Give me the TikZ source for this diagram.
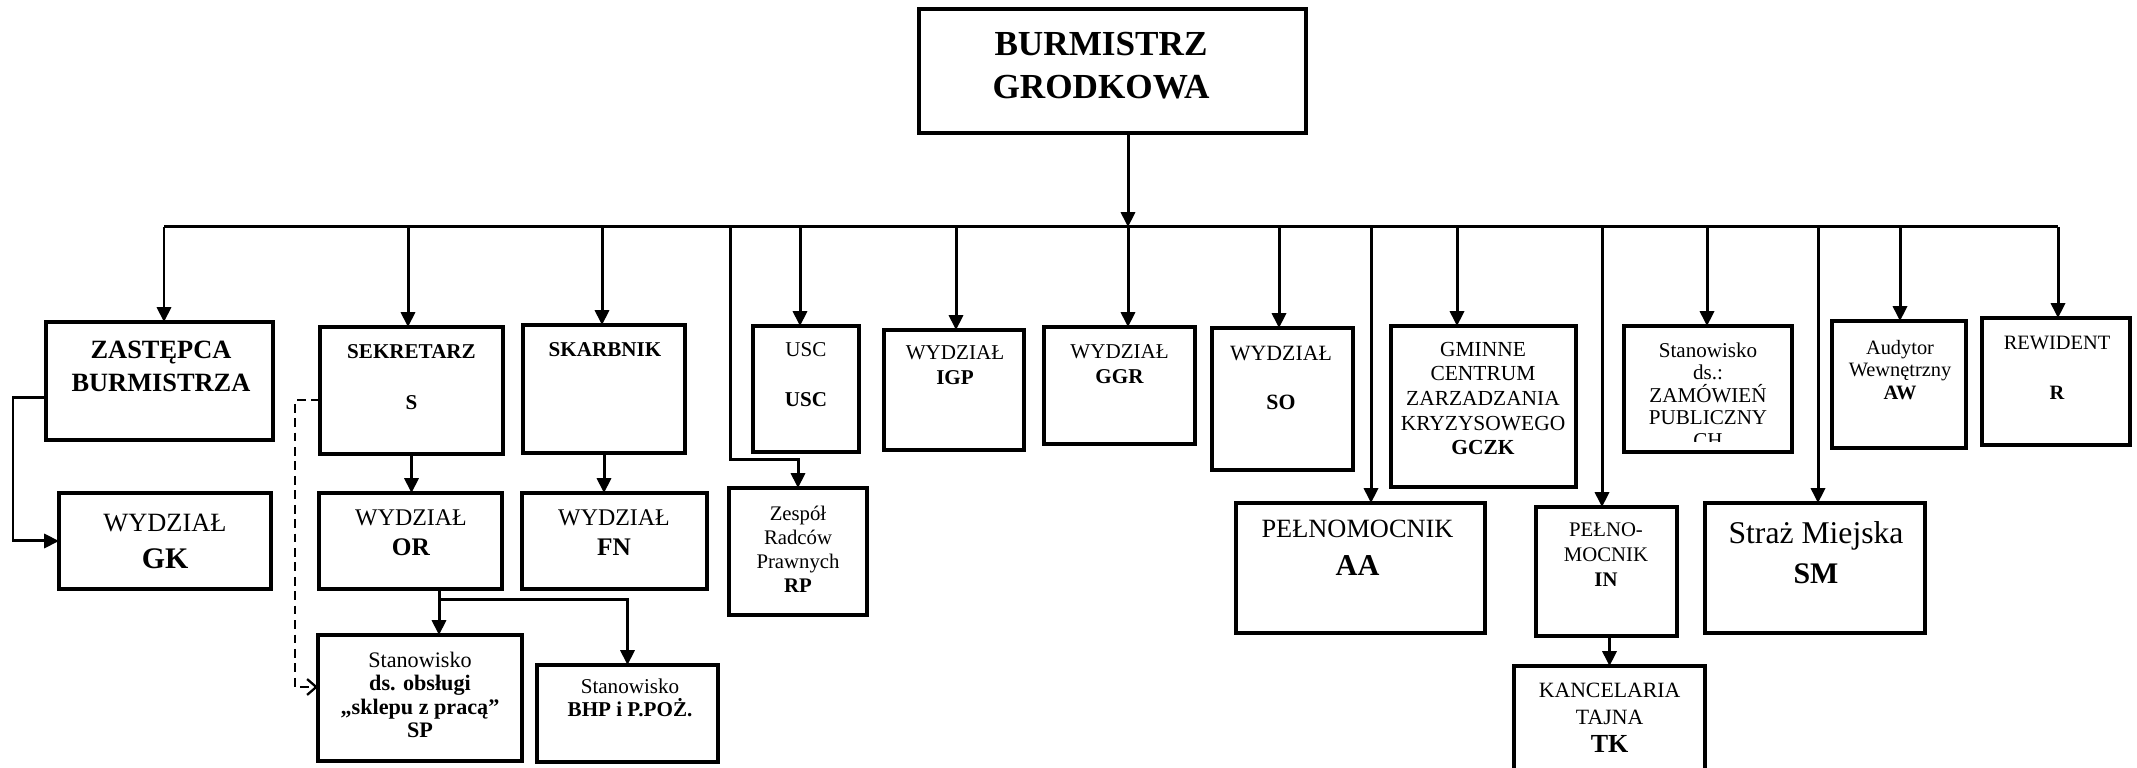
\documentclass[tikz,border=0pt]{standalone}
\usepackage{fontspec}
\setmainfont{Liberation Serif}
\usetikzlibrary{arrows.meta}
\newcommand\mybox[6][]{\node[box,#1,minimum width={(#5-#3)*0.01cm},minimum height={(#6-#4)*0.01cm}] (#2) at ({(#3+#5)/2},{(#4+#6)/2}) {};}
\newcommand\fz[2]{\fontsize{#1pt}{#2pt}\selectfont}
\begin{document}
\begin{tikzpicture}[x=0.01cm,y=-0.01cm,
  box/.style={draw,rectangle,line width=1pt,inner sep=0pt,outer sep=0pt},
  txt/.style={align=center,inner sep=0pt,outer sep=0pt},
  ln/.style={line width=0.85pt},
  arr/.style={line width=0.85pt,-{Triangle[length=4.2pt,width=4pt]}},
  dsh/.style={line width=0.65pt,dash pattern=on 2.5pt off 1.6pt,-{Straight Barb[length=2.6pt,width=4.5pt]}}]
\useasboundingbox (0,0) rectangle (2137,768);
\clip (0,0) rectangle (2137,768);
% boxes
\mybox[line width=1.35pt]{burm}{919}{9}{1306}{133}
\mybox{zast}{46}{322}{273}{440}
\mybox{gk}{59}{493}{271}{589}
\mybox{sek}{320}{327}{503}{454}
\mybox{sk}{523}{325}{685}{453}
\mybox{or}{319}{493}{502}{589}
\mybox{fn}{522}{493}{707}{589}
\mybox{sp}{318}{635}{522}{761}
\mybox{bhp}{537}{665}{718}{762}
\mybox{usc}{753}{326}{859}{452}
\mybox{rp}{729}{488}{867}{615}
\mybox{igp}{884}{330}{1024}{450}
\mybox{ggr}{1044}{327}{1195}{444}
\mybox{so}{1212}{328}{1353}{470}
\mybox{gczk}{1391}{326}{1576}{487}
\mybox{zp}{1624}{326}{1792}{452}
\mybox{aw}{1832}{321}{1966}{448}
\mybox{rw}{1982}{318}{2130}{445}
\mybox{aa}{1236}{503}{1485}{633}
\mybox{in}{1536}{507}{1677}{636}
\mybox{tk}{1514}{666}{1705}{790}
\mybox{sm}{1705}{503}{1925}{633}
% texts
\node[txt,font=\bfseries\fz{10}{12.2}] (burm-t) at (1101,65.5) {BURMISTRZ\\GRODKOWA};
\node[txt,font=\bfseries\fz{7.5}{9.4}] (zast-t) at (161,366.5) {ZASTĘPCA\\BURMISTRZA};
\node[txt,font=\fz{7.5}{10.5}] (gk-t) at (165,541.5) {WYDZIAŁ\\\textbf{\fz{8.5}{10.5}GK}};
\node[txt,font=\bfseries\fz{6}{7.2}] (sek-t) at (411.5,377.5) {SEKRETARZ\\[7.3pt]S};
\node[txt,font=\bfseries\fz{6}{7.2}] (sk-t) at (605,350) {SKARBNIK};
\node[txt,font=\fz{6.8}{8.5}] (or-t) at (411,533) {WYDZIAŁ\\\textbf{\fz{7.2}{8.5}OR}};
\node[txt,font=\fz{6.8}{8.5}] (fn-t) at (614,533) {WYDZIAŁ\\\textbf{\fz{7.2}{8.5}FN}};
\node[txt,font=\fz{6.3}{6.6}] (sp-t) at (420,695) {Stanowisko\\\textbf{ds. obsługi}\\\textbf{„sklepu z pracą”}\\\textbf{SP}};
\node[txt,font=\fz{6}{6.6}] (bhp-t) at (630,698) {Stanowisko\\\textbf{BHP i P.POŻ.}};
\node[txt,font=\fz{6}{14.2}] (usc-t) at (806,375) {USC\\\textbf{USC}};
\node[txt,font=\fz{5.9}{6.8}] (rp-t) at (798,549) {Zespół\\Radców\\Prawnych\\\textbf{RP}};
\node[txt,font=\fz{6}{7.1}] (igp-t) at (955,365.5) {WYDZIAŁ\\\textbf{IGP}};
\node[txt,font=\fz{6}{7.1}] (ggr-t) at (1119.6,364.5) {WYDZIAŁ\\\textbf{GGR}};
\node[txt,font=\fz{6.2}{13.9}] (so-t) at (1281,377.5) {WYDZIAŁ\\\textbf{SO}};
\node[txt,font=\fz{6.1}{7.0}] (gczk-t) at (1483,398.5) {GMINNE\\CENTRUM\\ZARZADZANIA\\KRYZYSOWEGO\\\textbf{GCZK}};
\begin{scope}
\clip (1624,326) rectangle (1792,442);
\node[txt,font=\fz{6}{6.4}] (zp-t) at (1708,395) {Stanowisko\\ds.:\\ZAMÓWIEŃ\\PUBLICZNY\\CH};
\end{scope}
\node[txt,font=\fz{5.8}{6.5}] (aw-t) at (1900,370) {Audytor\\Wewnętrzny\\\textbf{AW}};
\node[txt,font=\fz{5.8}{14.2}] (rw-t) at (2057,368) {REWIDENT\\\textbf{R}};
\node[txt,font=\fz{7.5}{10.8}] (aa-t) at (1357.5,548) {PEŁNOMOCNIK\\\textbf{\fz{8.6}{10.8}AA}};
\node[txt,font=\fz{5.9}{7.1}] (in-t) at (1606,555) {PEŁNO-\\MOCNIK\\\textbf{IN}};
\node[txt,font=\fz{6.2}{7.8}] (tk-t) at (1609.6,717.5) {KANCELARIA\\TAJNA\\\textbf{\fz{7.4}{7.8}TK}};
\node[txt,font=\fz{9}{11.3}] (sm-t) at (1816,553) {Straż Miejska\\\textbf{\fz{8.5}{11.3}SM}};
% bus
\coordinate (bL) at (164,227);
\coordinate (bR) at (2058,227);
\coordinate (bs) at (408,227);
\coordinate (bsk) at (602,227);
\coordinate (brp) at (730,227);
\coordinate (bu) at (800,227);
\coordinate (bi) at (956,227);
\coordinate (bg) at (1128,227);
\coordinate (bso) at (1279,227);
\coordinate (baa) at (1371,227);
\coordinate (bgc) at (1457,227);
\coordinate (bin) at (1602,227);
\coordinate (bzp) at (1707,227);
\coordinate (bsm) at (1818,227);
\coordinate (baw) at (1900,227);
\draw[ln] (bL) -- (bR);
\draw[arr] (bg |- burm.south) -- (bg);
\draw[arr] (bL) -- (bL |- zast.north);
\draw[arr] (bs) -- (bs |- sek.north);
\draw[arr] (bsk) -- (bsk |- sk.north);
\draw[arr] (bu) -- (bu |- usc.north);
\draw[arr] (bi) -- (bi |- igp.north);
\draw[arr] (bg) -- (bg |- ggr.north);
\draw[arr] (bso) -- (bso |- so.north);
\draw[arr] (baa) -- (baa |- aa.north);
\draw[arr] (bgc) -- (bgc |- gczk.north);
\draw[arr] (bin) -- (bin |- in.north);
\draw[arr] (bzp) -- (bzp |- zp.north);
\draw[arr] (bsm) -- (bsm |- sm.north);
\draw[arr] (baw) -- (baw |- aw.north);
\draw[arr] (bR) -- (bR |- rw.north);
% RP
\coordinate (rpk) at (730,460);
\draw[arr] (brp) -- (rpk) -| (rp.north);
% GK
\coordinate (gk1) at (13,398);
\draw[arr] (gk1 -| zast.west) -- (gk1) |- (gk.west);
% sekretarz
\draw[arr] (sek.south) -- (sek.south |- or.north);
\coordinate (orj) at (439,600);
\draw[arr] (orj |- or.south) -- (orj) -- (orj |- sp.north);
\draw[arr] (orj) -| (bhp.north);
\coordinate (d1) at (295,400);
\coordinate (d2) at (295,687);
\draw[dsh] (d1 -| sek.west) -- (d1) -- (d2) -- (d2 -| sp.west);
% skarbnik
\draw[arr] (sk.south) -- (sk.south |- fn.north);
% IN -> TK
\draw[arr] (tk.north |- in.south) -- (tk.north);
\end{tikzpicture}
\end{document}
